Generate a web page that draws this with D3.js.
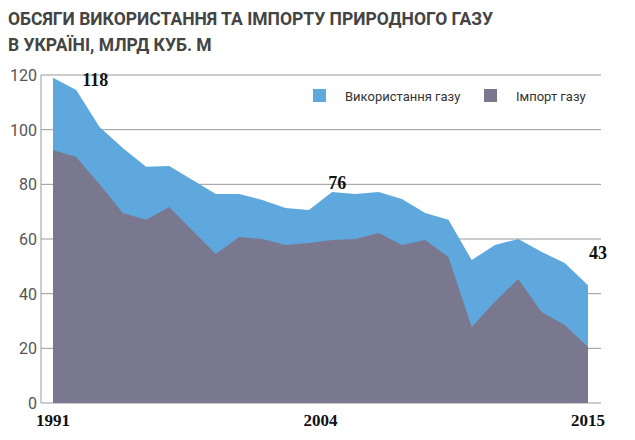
<!DOCTYPE html><html><head><meta charset="utf-8"><script src="https://d3js.org/d3.v7.min.js"></script>
<style>body{margin:0;background:#fff}</style></head><body><svg id="c" width="635" height="440"></svg>
<script>
const years=d3.range(1991,2015);
const usage=[119,114.5,101,93.3,86.4,86.7,81.6,76.5,76.5,74.3,71.3,70.6,77.2,76.5,77.2,74.6,69.5,67,52.3,57.8,60,55.3,51.2,43.1];
const imports=[92.6,90,80,69.5,67,71.7,63,54.5,60.7,60,57.8,58.5,59.6,60,62.2,57.8,59.6,53.4,27.8,37,45.4,33.3,28.5,20.5];
const yTicks=[0,20,40,60,80,100,120];
const xTickPos=[1991,2002.5,2014];const xTickLabels=["1991","2004","2015"];
const annYears=[1992,2004.6,2014];const annLabels=["118","76","43"];const annVals=[usage[1],usage[13],usage[23]];
const svg=d3.select("#c");
const x=d3.scaleLinear().domain([1991,2014]).range([53,588]);
const y=d3.scaleLinear().domain([0,120]).range([403,75]);
svg.append("text").attr("x",8).attr("y",25).text("ОБСЯГИ ВИКОРИСТАННЯ ТА ІМПОРТУ ПРИРОДНОГО ГАЗУ").attr("font-family","Roboto").attr("font-weight","bold").attr("font-size",17.5).attr("fill","#444");
svg.append("text").attr("x",8).attr("y",51).text("В УКРАЇНІ, МЛРД КУБ. М").attr("font-family","Roboto").attr("font-weight","bold").attr("font-size",17.5).attr("fill","#444");
const g=svg.append("g");
g.selectAll("line.g").data(yTicks).join("line").attr("x1",41).attr("x2",601).attr("y1",d=>y(d)).attr("y2",d=>y(d)).attr("stroke","#999").attr("stroke-width",1);
g.append("line").attr("x1",41).attr("x2",41).attr("y1",y(120)).attr("y2",y(0)).attr("stroke","#999");
const area=(arr)=>d3.area().x((d,i)=>x(years[i])).y0(y(0)).y1(d=>y(d))(arr);
g.append("path").attr("d",area(usage)).attr("fill","#5fa8de");
g.append("path").attr("d",area(imports)).attr("fill","#79788f");
g.selectAll("text.yt").data(yTicks).join("text").attr("x",37).attr("y",d=>y(d)+6).attr("text-anchor","end").text(d=>d).attr("font-family","Roboto").attr("font-size",16).attr("fill","#555");
g.selectAll("text.xt").data(xTickPos).join("text").attr("x",d=>x(d)).attr("y",426).attr("text-anchor","middle").text((d,i)=>xTickLabels[i]).attr("font-family","Liberation Serif").attr("font-weight","bold").attr("font-size",17).attr("fill","#111");
g.selectAll("text.an").data(annYears).join("text").attr("x",d=>x(d)).attr("y",(d,i)=>y(annVals[i])-[4,5,-2][i]).attr("text-anchor","middle").text((d,i)=>annLabels[i]).attr("font-family","Liberation Serif").attr("font-weight","bold").attr("font-size",18).attr("fill","#111")
 .attr("dx",(d,i)=>[19,-32,10][i]).attr("dy",(d,i)=>[0,0,-28][i]);
const leg=[["Використання газу","#5fa8de",313],["Імпорт газу","#79788f",484]];
leg.forEach(l=>{svg.append("rect").attr("x",l[2]).attr("y",89).attr("width",13).attr("height",13).attr("fill",l[1]);
svg.append("text").attr("x",l[2]+32).attr("y",101).text(l[0]).attr("font-family","Roboto").attr("font-size",13).attr("fill","#333");});
</script></body></html>
